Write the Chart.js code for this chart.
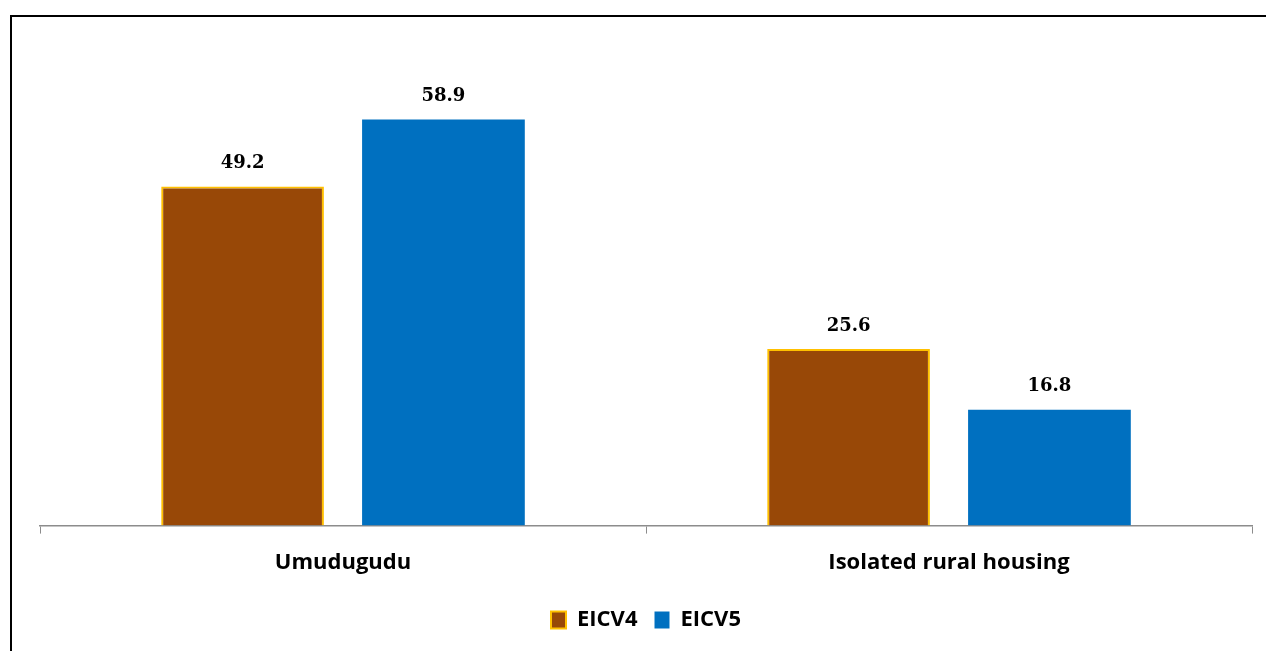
<!DOCTYPE html>
<html>
<head>
<meta charset="utf-8">
<script src="https://cdn.jsdelivr.net/npm/chart.js@4"></script>
<style>
  html, body { margin: 0; padding: 0; background: #fff; }
  #wrap { width: 1266px; height: 651px; position: relative; }
</style>
</head>
<body>
<div id="wrap"><canvas id="chart"></canvas></div>
<script>
const categories = ['Umudugudu', 'Isolated rural housing'];
const eicv4 = [49.2, 25.6];
const eicv5 = [58.9, 16.8];

// frame (top + left edges only, the rest is cropped in the original)
const framePlugin = {
    id: 'frame',
    beforeDraw(chart) {
        const c = chart.ctx;
        c.save();
        c.fillStyle = '#fff';
        c.fillRect(0, 0, chart.width, chart.height);
        c.strokeStyle = '#000';
        c.lineWidth = 2;
        c.beginPath();
        c.moveTo(11, chart.height);
        c.lineTo(11, 16);
        c.lineTo(chart.width, 16);
        c.stroke();
        c.restore();
    }
};

// value labels above each bar
const valueLabels = {
    id: 'valueLabels',
    afterDatasetsDraw(chart) {
        const c = chart.ctx;
        c.save();
        c.font = 'bold 18px "DejaVu Serif"';
        c.fillStyle = '#000';
        c.textAlign = 'center';
        c.textBaseline = 'middle';
        chart.data.datasets.forEach((ds, i) => {
            chart.getDatasetMeta(i).data.forEach((bar, j) => {
                c.fillText(ds.data[j].toFixed(1), bar.x, bar.y - 23);
            });
        });
        c.restore();
    }
};

new Chart(document.getElementById('chart'), {
    type: 'bar',
    data: {
        labels: categories,
        datasets: [{
            label: 'EICV4',
            data: eicv4,
            backgroundColor: '#984807',
            borderColor: '#FFC000',
            borderWidth: 2
        }, {
            label: 'EICV5',
            data: eicv5,
            backgroundColor: '#0070C0',
            borderColor: '#0070C0',
            borderWidth: 0
        }]
    },
    options: {
        responsive: true,
        maintainAspectRatio: false,
        animation: false,
        categoryPercentage: 0.663,
        barPercentage: 0.81,
        layout: {
            padding: { left: 40, right: 14, top: 43, bottom: 10 }
        },
        scales: {
            x: {
                grid: {
                    display: true,
                    drawOnChartArea: false,
                    tickLength: 8,
                    color: '#8c8c8c'
                },
                border: { color: '#8c8c8c', width: 1.5 },
                ticks: {
                    padding: 16,
                    color: '#000',
                    font: { family: '"Open Sans"', size: 22, weight: 'bold' }
                }
            },
            y: {
                display: false,
                min: 0,
                max: 70
            }
        },
        plugins: {
            legend: {
                position: 'bottom',
                labels: {
                    boxWidth: 15,
                    boxHeight: 17,
                    padding: 17,
                    color: '#000',
                    font: { family: '"Open Sans"', size: 22, weight: 'bold' }
                }
            },
            tooltip: { enabled: false }
        }
    },
    plugins: [framePlugin, valueLabels]
});
</script>
</body>
</html>
